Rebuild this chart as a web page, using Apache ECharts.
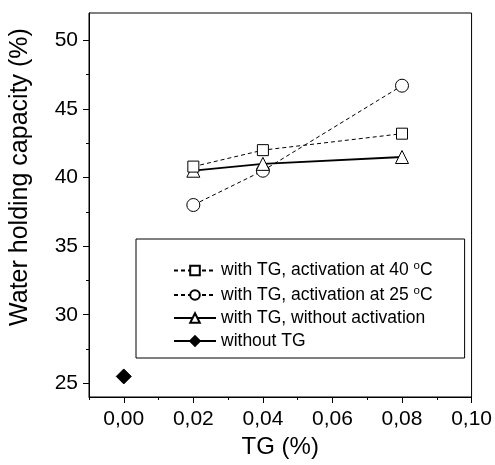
<!DOCTYPE html>
<html>
<head>
<meta charset="utf-8">
<script src="https://cdn.jsdelivr.net/npm/echarts@6/dist/echarts.min.js"></script>
<style>html,body{margin:0;padding:0;background:#fff}#c{width:495px;height:465px}</style>
</head>
<body>
<div id="c"></div>
<script>
// ---- data ----
const tgLevels = [0.02, 0.04, 0.08];
const act40 = [40.8, 42.0, 43.2];
const act25 = [38.0, 40.5, 46.7];
const noAct = [40.5, 41.0, 41.5];
const controlX = [0.00];
const controlY = [25.5];
const seriesNames = [
  'with TG, activation at 40 {sup|o}C',
  'with TG, activation at 25 {sup|o}C',
  'with TG, without activation',
  'without TG'
];
const xMajorTicks = [0.00, 0.02, 0.04, 0.06, 0.08, 0.10];
const xMinorTicks = [-0.01, 0.01, 0.03, 0.05, 0.07, 0.09];
const yMajorTicks = [25, 30, 35, 40, 45, 50];
const yMinorTicks = [27.5, 32.5, 37.5, 42.5, 47.5];

const FONT = 'Liberation Sans, Arial, sans-serif';
const pairs = (xs, ys) => xs.map((x, i) => [x, ys[i]]);
const fmtX = v => v.toFixed(2).replace('.', ',');

const chart = echarts.init(document.getElementById('c'), null, {renderer: 'canvas'});
const axCommonX = {
  type: 'value', min: -0.01, max: 0.10, gridIndex: 0, position: 'bottom',
  splitLine: {show: false}
};
const axCommonY = {
  type: 'value', min: 24, max: 52, gridIndex: 0, position: 'left',
  splitLine: {show: false}
};
const option = {
  animation: false,
  backgroundColor: '#fff',
  textStyle: {fontFamily: FONT, color: '#000'},
  grid: {left: 89, right: 23, top: 13, bottom: 68, show: true, borderColor: '#000', borderWidth: 1},
  xAxis: [
    Object.assign({}, axCommonX, {
      name: 'TG (%)', nameLocation: 'middle', nameGap: 31,
      nameTextStyle: {fontSize: 24, color: '#000', fontFamily: FONT},
      axisLine: {show: true, onZero: false, lineStyle: {color: '#000', width: 1}},
      axisTick: {show: true, inside: false, length: 6, customValues: xMajorTicks, lineStyle: {color: '#000'}},
      axisLabel: {show: true, margin: 12, fontSize: 21, color: '#000', fontFamily: FONT,
                  customValues: xMajorTicks, formatter: fmtX}
    }),
    Object.assign({}, axCommonX, {
      axisLine: {show: false, onZero: false},
      axisTick: {show: true, inside: false, length: 3, customValues: xMinorTicks, lineStyle: {color: '#000'}},
      axisLabel: {show: false}
    })
  ],
  yAxis: [
    Object.assign({}, axCommonY, {
      name: 'Water holding capacity (%)', nameLocation: 'middle', nameGap: 56,
      nameTextStyle: {fontSize: 25, color: '#000', fontFamily: FONT, padding: [0, 0, 0, 56]},
      axisLine: {show: true, onZero: false, lineStyle: {color: '#000', width: 1}},
      axisTick: {show: true, inside: false, length: 6, customValues: yMajorTicks, lineStyle: {color: '#000'}},
      axisLabel: {show: true, margin: 11, fontSize: 21, color: '#000', fontFamily: FONT,
                  customValues: yMajorTicks}
    }),
    Object.assign({}, axCommonY, {
      axisLine: {show: false, onZero: false},
      axisTick: {show: true, inside: false, length: 3, customValues: yMinorTicks, lineStyle: {color: '#000'}},
      axisLabel: {show: false}
    })
  ],
  legend: {
    orient: 'vertical', left: 136, top: 239,
    borderColor: '#000', borderWidth: 1,
    padding: [21, 32, 8, 37],
    itemWidth: 42, itemHeight: 12, itemGap: 5,
    textStyle: {fontSize: 17.5, lineHeight: 18, color: '#000', fontFamily: FONT,
      rich: {sup: {fontSize: 11.5, fontFamily: FONT, color: '#000', padding: [0, 0, 9, 0]}}},
    data: seriesNames
  },
  series: [
    {
      name: seriesNames[0], type: 'line', data: pairs(tgLevels, act40),
      symbol: 'rect', symbolSize: 11,
      lineStyle: {color: '#000', width: 1, type: [4, 3]},
      itemStyle: {color: '#fff', borderColor: '#000', borderWidth: 1}, z: 4
    },
    {
      name: seriesNames[1], type: 'line', data: pairs(tgLevels, act25),
      symbol: 'circle', symbolSize: 13,
      lineStyle: {color: '#000', width: 1, type: [4, 3]},
      itemStyle: {color: '#fff', borderColor: '#000', borderWidth: 1}, z: 2
    },
    {
      name: seriesNames[2], type: 'line', data: pairs(tgLevels, noAct),
      symbol: 'triangle', symbolSize: 13,
      lineStyle: {color: '#000', width: 1.8, type: 'solid'},
      itemStyle: {color: '#fff', borderColor: '#000', borderWidth: 1}, z: 3
    },
    {
      name: seriesNames[3], type: 'line', data: pairs(controlX, controlY),
      symbol: 'diamond', symbolSize: 15,
      lineStyle: {color: '#000', width: 1, type: 'solid'},
      itemStyle: {color: '#000', borderColor: '#000', borderWidth: 1}, z: 3
    }
  ]
};
chart.setOption(option);
</script>
</body>
</html>
